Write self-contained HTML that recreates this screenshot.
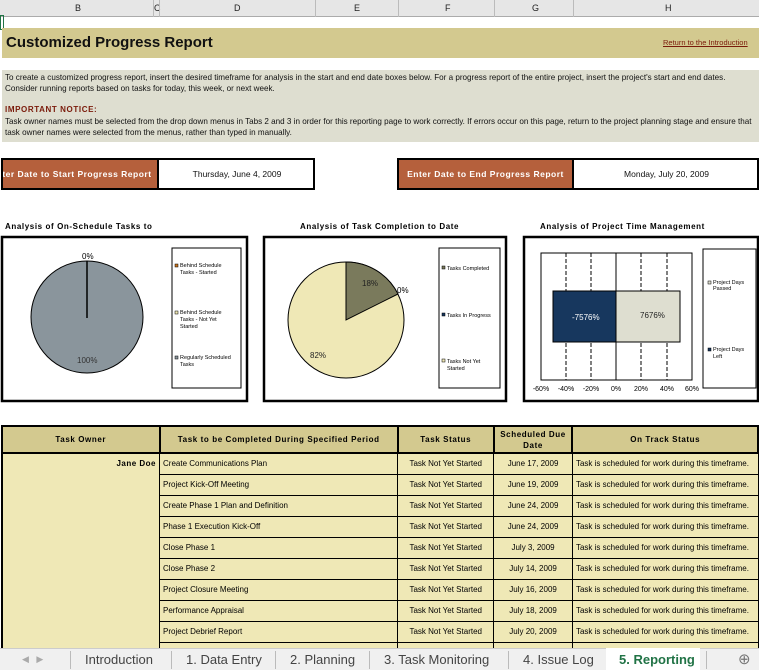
<!DOCTYPE html><html><head><style>
*{margin:0;padding:0;box-sizing:border-box}
body{width:759px;height:670px;overflow:hidden;background:#fff;font-family:"Liberation Sans",sans-serif;position:relative}
.a{position:absolute}
.hdr{top:0;left:0;width:759px;height:17px;background:#e6e6e6;border-bottom:1px solid #ababab;font-size:9px;color:#222}
.hdr span{position:absolute;top:3px}
.hdr i{position:absolute;top:0;height:17px;border-left:1px solid #bbb}
.t{font-size:7px;color:#111}
table{border-collapse:collapse;position:absolute;left:1px;top:425px}
td{border:1px solid #000;height:21px;font-size:8px;background:#efe8b6;padding:0 3px}
th{border:2px solid #000;background:#d3c98f;font-size:8px;height:27px;letter-spacing:.6px}
.tabs{top:648px;left:0;width:759px;height:22px;background:#f0f0f0;border-top:1px solid #ccc;font-size:13px;color:#444}
.tabs span{position:absolute;top:3px}
.tabs i{position:absolute;top:2px;height:18px;border-left:1px solid #bbb}
.ct{font-size:8px;font-weight:bold;letter-spacing:.6px}
</style></head><body>
<div class="a hdr"><span style="left:75px">B</span><span style="left:154px">C</span><span style="left:234px">D</span><span style="left:354px">E</span><span style="left:445px">F</span><span style="left:532px">G</span><span style="left:665px">H</span>
<i style="left:153px"></i><i style="left:159px"></i><i style="left:315px"></i><i style="left:398px"></i><i style="left:494px"></i><i style="left:573px"></i></div>
<div class="a" style="left:0;top:15px;width:4px;height:15px;border:1px solid #217346"></div>
<div class="a" style="left:2px;top:28px;width:757px;height:30px;background:#d3c98f"></div>
<div class="a" style="left:6px;top:34px;font-size:15px;font-weight:bold;color:#111">Customized Progress Report</div>
<div class="a" style="left:663px;top:38px;font-size:7.5px;color:#7a1a0a;text-decoration:underline">Return to the Introduction</div>
<div class="a" style="left:2px;top:70px;width:757px;height:72px;background:#deded0"></div>
<div class="a t" style="left:5px;top:72px;line-height:11px;width:754px;font-size:8.1px;white-space:nowrap">To create a customized progress report, insert the desired timeframe for analysis in the start and end date boxes below. For a progress report of the entire project, insert the project's start and end dates.<br>Consider running reports based on tasks for today, this week, or next week.</div>
<div class="a" style="left:5px;top:105px;font-size:8px;font-weight:bold;color:#7a1a0a;letter-spacing:.6px">IMPORTANT NOTICE:</div>
<div class="a t" style="left:5px;top:116px;line-height:11px;width:755px;font-size:8.1px;white-space:nowrap">Task owner names must be selected from the drop down menus in Tabs 2 and 3 in order for this reporting page to work correctly. If errors occur on this page, return to the project planning stage and ensure that<br>task owner names were selected from the menus, rather than typed in manually.</div>
<div class="a" style="left:1px;top:158px;width:314px;height:32px;border:2px solid #000;background:#fff"></div>
<div class="a" style="left:3px;top:160px;width:156px;height:28px;background:#b5603c;border-right:2px solid #000;color:#fff;font-size:8.5px;letter-spacing:.5px;font-weight:bold;line-height:28px;white-space:nowrap;overflow:hidden;text-align:center;text-indent:-18px">Enter Date to Start Progress Report</div>
<div class="a t" style="left:159px;top:169px;width:156px;text-align:center;font-size:8.5px">Thursday, June 4, 2009</div>
<div class="a" style="left:397px;top:158px;width:362px;height:32px;border:2px solid #000;background:#fff"></div>
<div class="a" style="left:399px;top:160px;width:175px;height:28px;background:#b5603c;border-right:2px solid #000;color:#fff;font-size:8.5px;letter-spacing:.5px;font-weight:bold;line-height:28px;text-align:center;white-space:nowrap">Enter Date to End Progress Report</div>
<div class="a t" style="left:574px;top:169px;width:185px;text-align:center;font-size:8.5px">Monday, July 20, 2009</div>
<div class="a ct" style="left:5px;top:222px">Analysis of On-Schedule Tasks to</div>
<div class="a ct" style="left:300px;top:222px">Analysis of Task Completion to Date</div>
<div class="a ct" style="left:540px;top:222px">Analysis of Project Time Management</div>
<svg class="a" style="left:0;top:0" width="759" height="420" font-family="Liberation Sans" font-size="7">
<rect x="2" y="237" width="245" height="164" fill="#fff" stroke="#000" stroke-width="2.5"/>
<circle cx="87" cy="317" r="56" fill="#8a959c" stroke="#000"/>
<line x1="87" y1="261" x2="87" y2="318" stroke="#000" stroke-width="1.5"/>
<text x="82" y="259" font-size="8">0%</text><text x="77" y="363" font-size="8" fill="#333">100%</text>
<rect x="172" y="248" width="69" height="140" fill="#fff" stroke="#000"/>
<rect x="175" y="264" width="3" height="3" fill="#c8741f" stroke="#000" stroke-width=".5"/><text x="180" y="267" font-size="5.5">Behind Schedule</text><text x="180" y="274" font-size="5.5">Tasks - Started</text>
<rect x="175" y="311" width="3" height="3" fill="#efe8b6" stroke="#000" stroke-width=".5"/><text x="180" y="314" font-size="5.5">Behind Schedule</text><text x="180" y="321" font-size="5.5">Tasks - Not Yet</text><text x="180" y="328" font-size="5.5">Started</text>
<rect x="175" y="356" width="3" height="3" fill="#8a959c" stroke="#000" stroke-width=".5"/><text x="180" y="359" font-size="5.5">Regularly Scheduled</text><text x="180" y="366" font-size="5.5">Tasks</text>
<rect x="264" y="237" width="242" height="164" fill="#fff" stroke="#000" stroke-width="2.5"/>
<circle cx="346" cy="320" r="58" fill="#efe8b6" stroke="#000"/>
<path d="M346 320 L346 262 A58 58 0 0 1 398 294 Z" fill="#7a7a5c" stroke="#000"/>
<text x="362" y="286" font-size="8" fill="#222">18%</text><text x="397" y="293" font-size="8">0%</text><text x="310" y="358" font-size="8" fill="#222">82%</text>
<rect x="439" y="248" width="61" height="140" fill="#fff" stroke="#000"/>
<rect x="442" y="266" width="3" height="3" fill="#7a7a5c" stroke="#000" stroke-width=".5"/><text x="447" y="270" font-size="5.5">Tasks Completed</text>
<rect x="442" y="313" width="3" height="3" fill="#17375e" stroke="#000" stroke-width=".5"/><text x="447" y="317" font-size="5.5">Tasks In Progress</text>
<rect x="442" y="359" width="3" height="3" fill="#efe8b6" stroke="#000" stroke-width=".5"/><text x="447" y="363" font-size="5.5">Tasks Not Yet</text><text x="447" y="370" font-size="5.5">Started</text>
<rect x="524" y="237" width="234" height="164" fill="#fff" stroke="#000" stroke-width="2.5"/>
<rect x="541" y="253" width="151" height="127" fill="#fff" stroke="#000"/>
<g stroke="#000" stroke-dasharray="4,2"><line x1="566" y1="253" x2="566" y2="380"/><line x1="591" y1="253" x2="591" y2="380"/><line x1="641" y1="253" x2="641" y2="380"/><line x1="667" y1="253" x2="667" y2="380"/></g>
<line x1="616" y1="253" x2="616" y2="380" stroke="#000"/>
<rect x="553" y="291" width="63" height="51" fill="#17375e" stroke="#000"/>
<rect x="616" y="291" width="64" height="51" fill="#deded0" stroke="#000"/>
<text x="572" y="320" font-size="8" fill="#fff">-7576%</text><text x="640" y="318" font-size="8" fill="#222">7676%</text>
<g font-size="7" text-anchor="middle"><text x="541" y="391">-60%</text><text x="566" y="391">-40%</text><text x="591" y="391">-20%</text><text x="616" y="391">0%</text><text x="641" y="391">20%</text><text x="667" y="391">40%</text><text x="692" y="391">60%</text></g>
<rect x="703" y="249" width="53" height="139" fill="#fff" stroke="#000"/>
<rect x="708" y="281" width="3" height="3" fill="#deded0" stroke="#000" stroke-width=".5"/><text x="713" y="284" font-size="5.5">Project Days</text><text x="713" y="290" font-size="5.5">Passed</text>
<rect x="708" y="348" width="3" height="3" fill="#17375e" stroke="#000" stroke-width=".5"/><text x="713" y="351" font-size="5.5">Project Days</text><text x="713" y="358" font-size="5.5">Left</text>
</svg>
<table>
<tr><th style="width:158px">Task Owner</th><th style="width:239px">Task to be Completed During Specified Period</th><th style="width:96px">Task Status</th><th style="width:79px;line-height:11px">Scheduled Due Date</th><th style="width:186px">On Track Status</th></tr>
<tr><td rowspan="10" style="vertical-align:top;text-align:right;font-weight:bold;padding-top:5px;border-left:2px solid #000;letter-spacing:.5px">Jane Doe</td><td>Create Communications Plan</td><td align="center">Task Not Yet Started</td><td align="center">June 17, 2009</td><td>Task is scheduled for work during this timeframe.</td></tr>
<tr><td>Project Kick-Off Meeting</td><td align="center">Task Not Yet Started</td><td align="center">June 19, 2009</td><td>Task is scheduled for work during this timeframe.</td></tr>
<tr><td>Create Phase 1 Plan and Definition</td><td align="center">Task Not Yet Started</td><td align="center">June 24, 2009</td><td>Task is scheduled for work during this timeframe.</td></tr>
<tr><td>Phase 1 Execution Kick-Off</td><td align="center">Task Not Yet Started</td><td align="center">June 24, 2009</td><td>Task is scheduled for work during this timeframe.</td></tr>
<tr><td>Close Phase 1</td><td align="center">Task Not Yet Started</td><td align="center">July 3, 2009</td><td>Task is scheduled for work during this timeframe.</td></tr>
<tr><td>Close Phase 2</td><td align="center">Task Not Yet Started</td><td align="center">July 14, 2009</td><td>Task is scheduled for work during this timeframe.</td></tr>
<tr><td>Project Closure Meeting</td><td align="center">Task Not Yet Started</td><td align="center">July 16, 2009</td><td>Task is scheduled for work during this timeframe.</td></tr>
<tr><td>Performance Appraisal</td><td align="center">Task Not Yet Started</td><td align="center">July 18, 2009</td><td>Task is scheduled for work during this timeframe.</td></tr>
<tr><td>Project Debrief Report</td><td align="center">Task Not Yet Started</td><td align="center">July 20, 2009</td><td>Task is scheduled for work during this timeframe.</td></tr>
<tr><td></td><td></td><td></td><td></td></tr>
</table>
<div class="a tabs"><span style="left:22px;color:#aaa;font-size:9px;top:5px">◀ &nbsp; ▶</span>
<i style="left:70px"></i><span style="left:85px">Introduction</span><i style="left:171px"></i><span style="left:186px">1. Data Entry</span><i style="left:275px"></i><span style="left:290px">2. Planning</span><i style="left:369px"></i><span style="left:384px">3. Task Monitoring</span><i style="left:508px"></i><span style="left:523px">4. Issue Log</span>
<div class="a" style="left:606px;top:-1px;width:94px;height:23px;background:#fff"></div><span style="left:619px;color:#217346;font-weight:bold">5. Reporting</span><i style="left:706px"></i><span style="left:738px;font-size:15px;top:1px;color:#777">⊕</span></div>
</body></html>
